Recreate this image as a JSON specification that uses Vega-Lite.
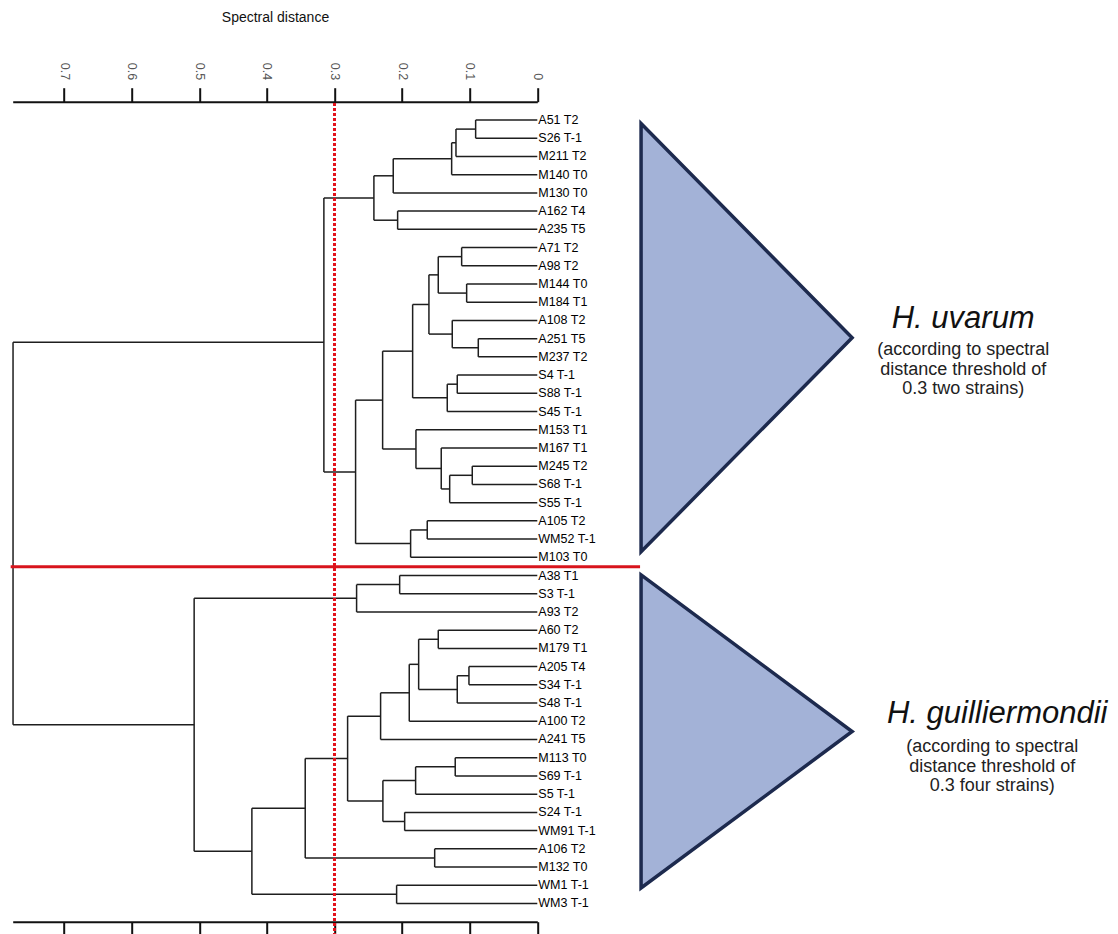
{
  "$schema": "https://vega.github.io/schema/vega-lite/v6.json",
  "width": 524.6,
  "height": 820,
  "autosize": "none",
  "padding": {"left": 12.7, "top": 101.7, "right": 580.7, "bottom": 12.3},
  "background": "white",
  "config": {"view": {"stroke": null}, "font": "Liberation Sans"},
  "resolve": {"axis": {"x": "independent"}},
  "datasets": {
    "nodes": [
      {"node": "n1", "d": 0.0912, "ya": 0, "yb": 1, "da": 0, "db": 0},
      {"node": "n2", "d": 0.1203, "ya": 0.5, "yb": 2, "da": 0.0912, "db": 0},
      {"node": "n3", "d": 0.1267, "ya": 1.25, "yb": 3, "da": 0.1203, "db": 0},
      {"node": "n4", "d": 0.2131, "ya": 2.125, "yb": 4, "da": 0.1267, "db": 0},
      {"node": "n5", "d": 0.2066, "ya": 5, "yb": 6, "da": 0, "db": 0},
      {"node": "n6", "d": 0.2417, "ya": 3.0625, "yb": 5.5, "da": 0.2131, "db": 0.2066},
      {"node": "n7", "d": 0.1119, "ya": 7, "yb": 8, "da": 0, "db": 0},
      {"node": "n8", "d": 0.1045, "ya": 9, "yb": 10, "da": 0, "db": 0},
      {"node": "n9", "d": 0.1465, "ya": 7.5, "yb": 9.5, "da": 0.1119, "db": 0.1045},
      {"node": "n10", "d": 0.0873, "ya": 12, "yb": 13, "da": 0, "db": 0},
      {"node": "n11", "d": 0.1258, "ya": 11, "yb": 12.5, "da": 0, "db": 0.0873},
      {"node": "n12", "d": 0.1603, "ya": 8.5, "yb": 11.75, "da": 0.1465, "db": 0.1258},
      {"node": "n13", "d": 0.1184, "ya": 14, "yb": 15, "da": 0, "db": 0},
      {"node": "n14", "d": 0.1332, "ya": 14.5, "yb": 16, "da": 0.1184, "db": 0},
      {"node": "n15", "d": 0.1844, "ya": 10.125, "yb": 15.25, "da": 0.1603, "db": 0.1332},
      {"node": "n16", "d": 0.0962, "ya": 19, "yb": 20, "da": 0, "db": 0},
      {"node": "n17", "d": 0.1296, "ya": 19.5, "yb": 21, "da": 0.0962, "db": 0},
      {"node": "n18", "d": 0.1421, "ya": 18, "yb": 20.25, "da": 0, "db": 0.1296},
      {"node": "n19", "d": 0.1795, "ya": 17, "yb": 19.125, "da": 0, "db": 0.1421},
      {"node": "n20", "d": 0.2288, "ya": 12.6875, "yb": 18.0625, "da": 0.1844, "db": 0.1795},
      {"node": "n21", "d": 0.1628, "ya": 22, "yb": 23, "da": 0, "db": 0},
      {"node": "n22", "d": 0.1874, "ya": 22.5, "yb": 24, "da": 0.1628, "db": 0},
      {"node": "n23", "d": 0.2688, "ya": 15.375, "yb": 23.25, "da": 0.2288, "db": 0.1874},
      {"node": "n24", "d": 0.3157, "ya": 4.28125, "yb": 19.3125, "da": 0.2417, "db": 0.2688},
      {"node": "m1", "d": 0.2036, "ya": 25, "yb": 26, "da": 0, "db": 0},
      {"node": "m2", "d": 0.2673, "ya": 25.5, "yb": 27, "da": 0.2036, "db": 0},
      {"node": "m3", "d": 0.1465, "ya": 28, "yb": 29, "da": 0, "db": 0},
      {"node": "m4", "d": 0.1011, "ya": 30, "yb": 31, "da": 0, "db": 0},
      {"node": "m5", "d": 0.1184, "ya": 30.5, "yb": 32, "da": 0.1011, "db": 0},
      {"node": "m6", "d": 0.1755, "ya": 28.5, "yb": 31.25, "da": 0.1465, "db": 0.1184},
      {"node": "m7", "d": 0.1894, "ya": 29.875, "yb": 33, "da": 0.1755, "db": 0},
      {"node": "m8", "d": 0.2318, "ya": 31.4375, "yb": 34, "da": 0.1894, "db": 0},
      {"node": "m9", "d": 0.1214, "ya": 35, "yb": 36, "da": 0, "db": 0},
      {"node": "m10", "d": 0.18, "ya": 35.5, "yb": 37, "da": 0.1214, "db": 0},
      {"node": "m11", "d": 0.1962, "ya": 38, "yb": 39, "da": 0, "db": 0},
      {"node": "m12", "d": 0.2284, "ya": 36.25, "yb": 38.5, "da": 0.18, "db": 0.1962},
      {"node": "m13", "d": 0.2806, "ya": 32.71875, "yb": 37.375, "da": 0.2318, "db": 0.2284},
      {"node": "m14", "d": 0.1518, "ya": 40, "yb": 41, "da": 0, "db": 0},
      {"node": "m15", "d": 0.3433, "ya": 35.046875, "yb": 40.5, "da": 0.2806, "db": 0.1518},
      {"node": "m16", "d": 0.2081, "ya": 42, "yb": 43, "da": 0, "db": 0},
      {"node": "m17", "d": 0.4222, "ya": 37.7734, "yb": 42.5, "da": 0.3433, "db": 0.2081},
      {"node": "m18", "d": 0.5076, "ya": 26.25, "yb": 40.1367, "da": 0.2673, "db": 0.4222},
      {"node": "root", "d": 0.7755, "ya": 12.2, "yb": 33.1934, "da": 0.3157, "db": 0.5076}
    ],
    "leaves": [
      {"strain": "A51 T2", "pos": 0},
      {"strain": "S26 T-1", "pos": 1},
      {"strain": "M211 T2", "pos": 2},
      {"strain": "M140 T0", "pos": 3},
      {"strain": "M130 T0", "pos": 4},
      {"strain": "A162 T4", "pos": 5},
      {"strain": "A235 T5", "pos": 6},
      {"strain": "A71 T2", "pos": 7},
      {"strain": "A98 T2", "pos": 8},
      {"strain": "M144 T0", "pos": 9},
      {"strain": "M184 T1", "pos": 10},
      {"strain": "A108 T2", "pos": 11},
      {"strain": "A251 T5", "pos": 12},
      {"strain": "M237 T2", "pos": 13},
      {"strain": "S4 T-1", "pos": 14},
      {"strain": "S88 T-1", "pos": 15},
      {"strain": "S45 T-1", "pos": 16},
      {"strain": "M153 T1", "pos": 17},
      {"strain": "M167 T1", "pos": 18},
      {"strain": "M245 T2", "pos": 19},
      {"strain": "S68 T-1", "pos": 20},
      {"strain": "S55 T-1", "pos": 21},
      {"strain": "A105 T2", "pos": 22},
      {"strain": "WM52 T-1", "pos": 23},
      {"strain": "M103 T0", "pos": 24},
      {"strain": "A38 T1", "pos": 25},
      {"strain": "S3 T-1", "pos": 26},
      {"strain": "A93 T2", "pos": 27},
      {"strain": "A60 T2", "pos": 28},
      {"strain": "M179 T1", "pos": 29},
      {"strain": "A205 T4", "pos": 30},
      {"strain": "S34 T-1", "pos": 31},
      {"strain": "S48 T-1", "pos": 32},
      {"strain": "A100 T2", "pos": 33},
      {"strain": "A241 T5", "pos": 34},
      {"strain": "M113 T0", "pos": 35},
      {"strain": "S69 T-1", "pos": 36},
      {"strain": "S5 T-1", "pos": 37},
      {"strain": "S24 T-1", "pos": 38},
      {"strain": "WM91 T-1", "pos": 39},
      {"strain": "A106 T2", "pos": 40},
      {"strain": "M132 T0", "pos": 41},
      {"strain": "WM1 T-1", "pos": 42},
      {"strain": "WM3 T-1", "pos": 43}
    ],
    "triangles": [
      {"group": "H. uvarum", "tx": -0.1535, "top": 0.192, "bottom": 23.7},
      {"group": "H. uvarum", "tx": -0.4657, "top": 11.95, "bottom": 11.95},
      {"group": "H. guilliermondii", "tx": -0.1535, "top": 24.97, "bottom": 42.15},
      {"group": "H. guilliermondii", "tx": -0.4657, "top": 33.56, "bottom": 33.56}
    ]
  },
  "layer": [
    {
      "data": {"name": "triangles"},
      "mark": {"type": "area", "fill": "#a3b2d7", "fillOpacity": 1, "stroke": "#1d2a4e", "strokeWidth": 3.5, "strokeJoin": "miter", "clip": false},
      "encoding": {
        "x": {"field": "tx", "type": "quantitative", "scale": {"domain": [0, 0.776], "reverse": true, "nice": false, "zero": false}, "axis": null},
        "y": {"field": "top", "type": "quantitative", "scale": {"domain": [-1.004, 44.0], "reverse": true, "nice": false, "zero": false}, "axis": null},
        "y2": {"field": "bottom"},
        "detail": {"field": "group"}
      }
    },
    {
      "data": {"name": "nodes"},
      "mark": {"type": "rule", "color": "#1e1e1e", "strokeWidth": 1.5},
      "encoding": {
        "x": {"field": "d", "type": "quantitative", "scale": {"domain": [0, 0.776], "reverse": true, "nice": false, "zero": false},
          "axis": {"orient": "top", "title": "Spectral distance", "values": [0, 0.1, 0.2, 0.3, 0.4, 0.5, 0.6, 0.7], "format": ".1~f",
            "labelAngle": 90, "labelFontSize": 12.5, "labelColor": "#555555", "labelPadding": 8, "labelFont": "Liberation Sans",
            "tickSize": 14, "tickWidth": 2, "tickColor": "#111111", "domainColor": "#111111", "domainWidth": 2, "grid": false,
            "titleFontSize": 14, "titleFontWeight": "normal", "titleColor": "#111111", "titleFont": "Liberation Sans", "titleBaseline": "alphabetic", "titleY": -80}},
        "y": {"field": "ya", "type": "quantitative", "scale": {"domain": [-1.004, 44.0], "reverse": true, "nice": false, "zero": false}, "axis": null},
        "y2": {"field": "yb"}
      }
    },
    {
      "data": {"name": "nodes"},
      "mark": {"type": "rule", "color": "#1e1e1e", "strokeWidth": 1.5},
      "encoding": {
        "x": {"field": "d", "type": "quantitative", "scale": {"domain": [0, 0.776], "reverse": true, "nice": false, "zero": false},
          "axis": {"orient": "bottom", "title": null, "values": [0, 0.1, 0.2, 0.3, 0.4, 0.5, 0.6, 0.7], "labels": false,
            "tickSize": 14, "tickWidth": 2, "tickColor": "#111111", "domainColor": "#111111", "domainWidth": 2, "grid": false}},
        "x2": {"field": "da"},
        "y": {"field": "ya", "type": "quantitative", "scale": {"domain": [-1.004, 44.0], "reverse": true, "nice": false, "zero": false}, "axis": null}
      }
    },
    {
      "data": {"name": "nodes"},
      "mark": {"type": "rule", "color": "#1e1e1e", "strokeWidth": 1.5},
      "encoding": {
        "x": {"field": "d", "type": "quantitative", "scale": {"domain": [0, 0.776], "reverse": true, "nice": false, "zero": false}, "axis": null},
        "x2": {"field": "db"},
        "y": {"field": "yb", "type": "quantitative", "scale": {"domain": [-1.004, 44.0], "reverse": true, "nice": false, "zero": false}, "axis": null}
      }
    },
    {
      "data": {"name": "leaves"},
      "mark": {"type": "text", "align": "left", "baseline": "middle", "dx": 1, "fontSize": 12.5, "font": "Liberation Sans", "color": "#000000"},
      "encoding": {
        "x": {"datum": 0, "type": "quantitative", "scale": {"domain": [0, 0.776], "reverse": true, "nice": false, "zero": false}, "axis": null},
        "y": {"field": "pos", "type": "quantitative", "scale": {"domain": [-1.004, 44.0], "reverse": true, "nice": false, "zero": false}, "axis": null},
        "text": {"field": "strain"}
      }
    },
    {
      "data": {"values": [{}]},
      "mark": {"type": "rule", "color": "#d8141c", "strokeWidth": 3, "clip": false},
      "encoding": {
        "x": {"datum": 0.779, "type": "quantitative", "axis": null},
        "x2": {"datum": -0.152},
        "y": {"datum": 24.52, "type": "quantitative", "axis": null}
      }
    },
    {
      "data": {"values": [{}]},
      "mark": {"type": "rule", "color": "#e3121b", "strokeWidth": 3, "strokeDash": [3, 2], "strokeCap": "butt", "clip": false},
      "encoding": {
        "x": {"datum": 0.3, "type": "quantitative", "axis": null},
        "y": {"datum": -0.93, "type": "quantitative", "axis": null},
        "y2": {"datum": 44.7}
      }
    },
    {
      "data": {"values": [{}]},
      "mark": {"type": "text", "align": "center", "baseline": "alphabetic", "fontSize": 31, "fontStyle": "italic", "font": "Liberation Sans", "color": "#111111"},
      "encoding": {
        "x": {"datum": -0.63, "type": "quantitative", "axis": null},
        "y": {"datum": 11.43, "type": "quantitative", "axis": null},
        "text": {"value": "H. uvarum"}
      }
    },
    {
      "data": {"values": [{}]},
      "mark": {"type": "text", "align": "center", "baseline": "middle", "fontSize": 18, "lineHeight": 19.5, "lineBreak": "\n", "font": "Liberation Sans", "color": "#222222"},
      "encoding": {
        "x": {"datum": -0.63, "type": "quantitative", "axis": null},
        "y": {"datum": 12.65, "type": "quantitative", "axis": null},
        "text": {"value": "(according to spectral\ndistance threshold of\n0.3 two strains)"}
      }
    },
    {
      "data": {"values": [{}]},
      "mark": {"type": "text", "align": "center", "baseline": "alphabetic", "fontSize": 31, "fontStyle": "italic", "font": "Liberation Sans", "color": "#111111"},
      "encoding": {
        "x": {"datum": -0.6803, "type": "quantitative", "axis": null},
        "y": {"datum": 33.1, "type": "quantitative", "axis": null},
        "text": {"value": "H. guilliermondii"}
      }
    },
    {
      "data": {"values": [{}]},
      "mark": {"type": "text", "align": "center", "baseline": "middle", "fontSize": 18, "lineHeight": 19.5, "lineBreak": "\n", "font": "Liberation Sans", "color": "#222222"},
      "encoding": {
        "x": {"datum": -0.6729, "type": "quantitative", "axis": null},
        "y": {"datum": 34.42, "type": "quantitative", "axis": null},
        "text": {"value": "(according to spectral\ndistance threshold of\n0.3 four strains)"}
      }
    }
  ]
}
